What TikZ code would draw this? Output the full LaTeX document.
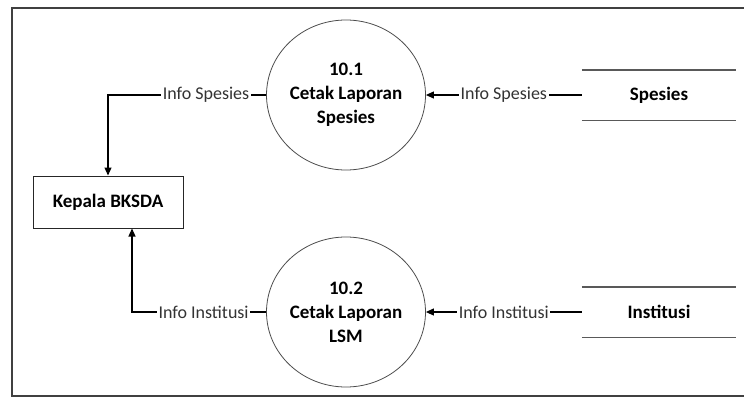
\documentclass[tikz,border=0pt]{standalone}
\usepackage{fontspec}
\setmainfont{Carlito}
\usetikzlibrary{shapes.geometric,arrows.meta}
\begin{document}
\begin{tikzpicture}[x=1pt,y=-1pt,
  frame/.style={draw=black!75,line width=1.6pt},
  procbox/.style={ellipse,draw=black!70,line width=0.8pt,minimum width=156pt,minimum height=150pt,inner sep=0pt,align=center,font=\fontsize{19}{24}\selectfont\bfseries},
  entbox/.style={rectangle,draw=black!85,line width=1pt,minimum width=150pt,minimum height=52pt,font=\fontsize{19}{23}\selectfont\bfseries},
  storebox/.style={rectangle,minimum width=154pt,minimum height=50pt,inner sep=0pt,font=\fontsize{19}{23}\selectfont\bfseries},
  storeline/.style={draw=black!65,line width=1.4pt},
  flow/.style={draw=black,line width=1.1pt,-{Triangle[length=8pt,width=7pt]}},
  flowlabel/.style={fill=white,inner sep=1.5pt,font=\fontsize{18}{22}\selectfont,text=black!80}]
\useasboundingbox (0,0) rectangle (744,399);
% frame
\draw[frame] (744,8) -| (12,396) -- (744,396);
% processes
\node[procbox] (p1) at (346,95) {10.1\\Cetak Laporan\\Spesies};
\node[procbox] (p2) at (346,312) {10.2\\Cetak Laporan\\LSM};
% external entity
\node[entbox] (kepala) at (108,202) {Kepala BKSDA};
% data stores
\node[storebox] (ds1) at (659,95) {Spesies};
\node[storebox] (ds2) at (659,312) {Institusi};
\draw[storeline] (ds1.north west) -- (ds1.north east);
\draw[storeline] (ds1.south west) -- (ds1.south east);
\draw[storeline] (ds2.north west) -- (ds2.north east);
\draw[storeline] (ds2.south west) -- (ds2.south east);
% flows
\draw[flow] (ds1.west) -- node[flowlabel]{Info Spesies} (p1.east);
\draw[flow] (ds2.west) -- node[flowlabel]{Info Institusi} (p2.east);
\draw[flow] (p1.west) -| node[flowlabel,pos=0.19]{Info Spesies} (kepala.north);
\draw[flow] (p2.west) -| node[flowlabel,pos=0.233]{Info Institusi} ([xshift=24pt]kepala.south);
\end{tikzpicture}
\end{document}
